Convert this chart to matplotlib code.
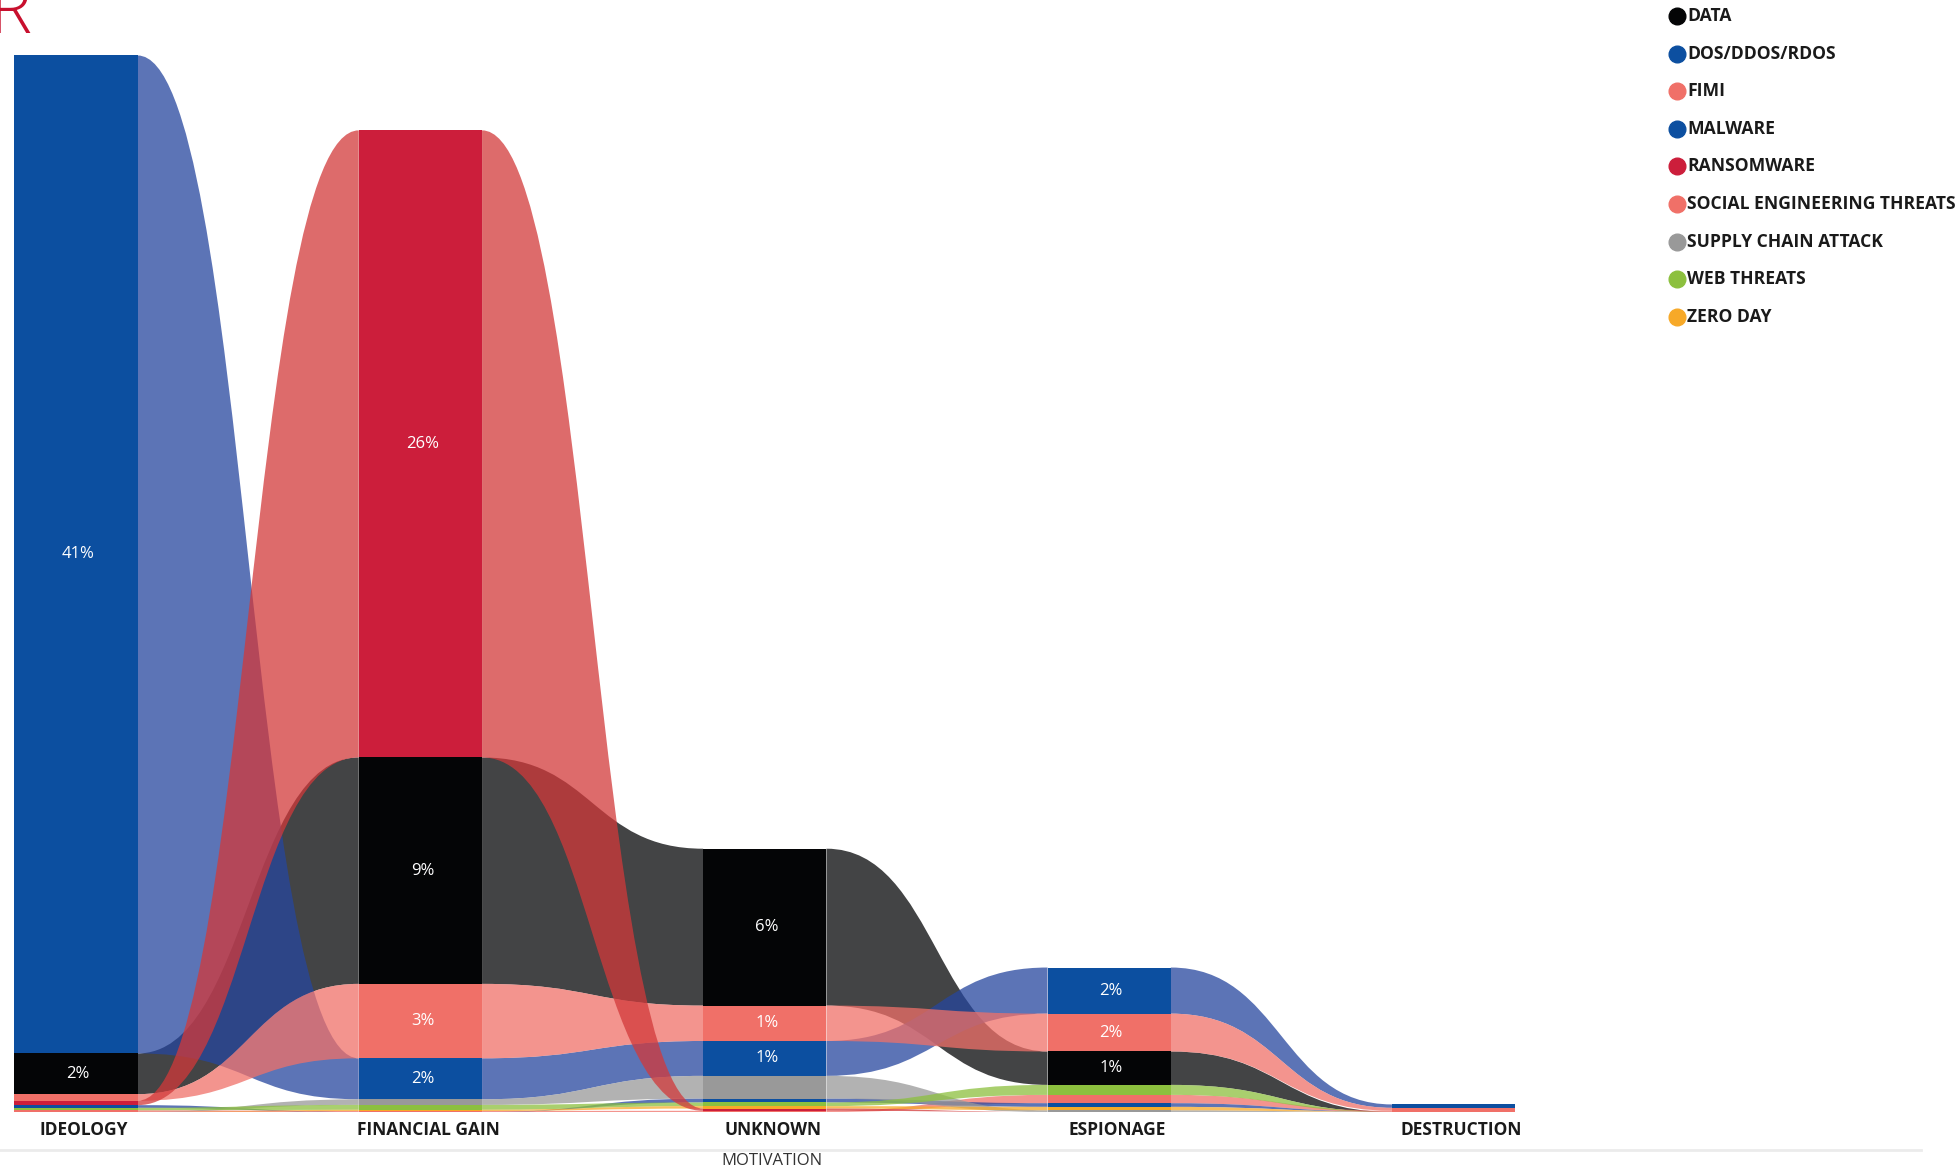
import matplotlib
matplotlib.use("Agg")
import matplotlib.pyplot as plt
from matplotlib.path import Path
from matplotlib.patches import PathPatch, Rectangle
from matplotlib.lines import Line2D

plt.rcParams["font.family"] = ["Open Sans", "DejaVu Sans"]

# Share of incidents (%) per motivation, one list per threat type
categories = ["IDEOLOGY", "FINANCIAL GAIN", "UNKNOWN", "ESPIONAGE", "DESTRUCTION"]
series_names = [
    "DATA", "DOS/DDOS/RDOS", "FIMI", "MALWARE", "RANSOMWARE",
    "SOCIAL ENGINEERING THREATS", "SUPPLY CHAIN ATTACK", "WEB THREATS", "ZERO DAY",
]
data_vals = [1.67, 9.28, 6.43, 1.37, 0.0]
dos_vals = [40.9, 1.68, 1.43, 1.89, 0.14]
fimi_vals = [0.07, 0.04, 0.05, 0.34, 0.05]
malware_vals = [0.11, 0.0, 0.16, 0.15, 0.0]
ransomware_vals = [0.18, 25.7, 0.09, 0.0, 0.0]
social_vals = [0.27, 3.05, 1.45, 1.55, 0.12]
supply_vals = [0.0, 0.23, 0.93, 0.07, 0.0]
web_vals = [0.10, 0.20, 0.15, 0.41, 0.0]
zero_day_vals = [0.0, 0.05, 0.10, 0.14, 0.0]

bar_colors = [
    "#040506", "#0c4fa0", "#f07068", "#0c4fa0", "#cc1e3b",
    "#f07068", "#999999", "#8cc03e", "#f7a928",
]
ribbon_colors = list(bar_colors)
ribbon_colors[1] = "#26469e"
ribbon_colors[3] = "#26469e"
ribbon_colors[4] = "#d2393a"

values = [data_vals, dos_vals, fimi_vals, malware_vals, ransomware_vals,
          social_vals, supply_vals, web_vals, zero_day_vals]

n_cat = len(categories)
half_w = 0.179

# stack each category: biggest series on top
bottoms = [[0.0] * n_cat for _ in values]
for c in range(n_cat):
    order = sorted(range(len(values)), key=lambda s: values[s][c])
    level = 0.0
    for s in order:
        bottoms[s][c] = level
        level += values[s][c]

fig = plt.figure(figsize=(19.59, 11.71), dpi=100)
ax = fig.add_axes([0, 0.0504, 1, 0.9496])
ax.set_xlim(-76 / 344.4, (1959 - 76) / 344.4)
ax.set_ylim(0, 1112 / 24.4)
ax.axis("off")


def ribbon(x0, x1, b0, t0, b1, t1):
    xm = (x0 + x1) / 2
    verts = [(x0, b0), (x0, t0), (xm, t0), (xm, t1), (x1, t1),
             (x1, b1), (xm, b1), (xm, b0), (x0, b0), (x0, b0)]
    codes = [Path.MOVETO, Path.LINETO, Path.CURVE4, Path.CURVE4, Path.CURVE4,
             Path.LINETO, Path.CURVE4, Path.CURVE4, Path.CURVE4, Path.CLOSEPOLY]
    return Path(verts, codes)


# ribbons between neighbouring bars, ransomware drawn last
draw_order = [0, 1, 2, 3, 5, 6, 7, 8, 4]
for s in draw_order:
    for c in range(n_cat - 1):
        b0, b1 = bottoms[s][c], bottoms[s][c + 1]
        t0, t1 = b0 + values[s][c], b1 + values[s][c + 1]
        if t0 - b0 <= 0 and t1 - b1 <= 0:
            continue
        p = ribbon(c + half_w, c + 1 - half_w, b0, t0, b1, t1)
        ax.add_patch(PathPatch(p, facecolor=ribbon_colors[s], edgecolor="none",
                               alpha=0.75, zorder=2))

# solid bar segments with rounded percentage labels
for s, vals in enumerate(values):
    for c in range(n_cat):
        v = vals[c]
        if v <= 0:
            continue
        ax.add_patch(Rectangle((c - half_w, bottoms[s][c]), 2 * half_w, v,
                               facecolor=bar_colors[s], edgecolor="none", zorder=3))
        if v >= 1.0:
            ax.text(c + 0.006, bottoms[s][c] + v / 2, f"{v:.0f}%", color="white",
                    fontsize=12, ha="center", va="center", zorder=4)

# category labels and axis title
for c, name in enumerate(categories):
    ax.text(c + 0.023, -0.72, name, fontsize=12.5, fontweight="bold",
            color="#1a1a1a", ha="center", va="center", clip_on=False)
fig.add_artist(Line2D([0, 1921 / 1959], [1 - 1150 / 1171] * 2,
                      transform=fig.transFigure, color="#ebebeb", linewidth=2))
fig.text(772 / 1959, 1 - 1161 / 1171, "MOTIVATION", fontsize=12, color="#333333",
         ha="center", va="center")

# legend
for i, name in enumerate(series_names):
    y = 1 - (16 + 37.6 * i) / 1171
    fig.add_artist(Line2D([1677 / 1959], [y], transform=fig.transFigure, marker="o",
                          markersize=12, color=bar_colors[i], linestyle="none"))
    fig.text(1687 / 1959, y, name, fontsize=12.6, fontweight="bold", color="#1a1a1a",
             ha="left", va="center")

# clipped heading letter in the corner
fig.text(32 / 1959, 1 - 33 / 1171, "R", fontsize=51, fontweight="light",
         color="#c8102e", ha="right", va="baseline")

fig.savefig("out.png", dpi=100)
